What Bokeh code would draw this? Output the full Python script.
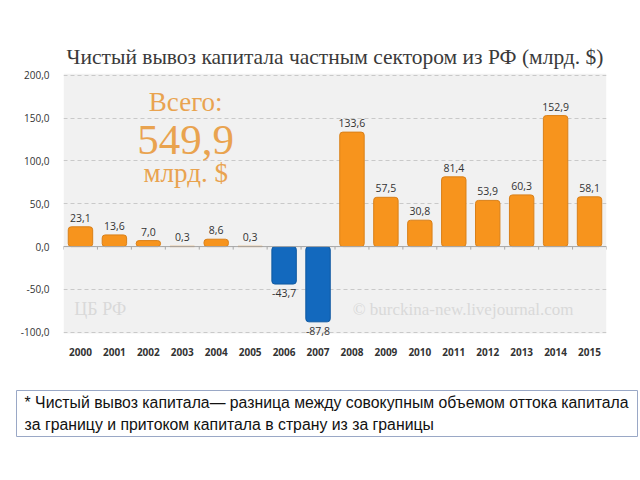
from bokeh.plotting import figure
from bokeh.models import FactorRange, Range1d, Label, Span, ColumnDataSource, FixedTicker, BoxAnnotation
from bokeh.embed import file_html
from bokeh.resources import INLINE
from bokeh.core.properties import value

years = ["2000", "2001", "2002", "2003", "2004", "2005", "2006", "2007",
         "2008", "2009", "2010", "2011", "2012", "2013", "2014", "2015"]
values = [23.1, 13.6, 7.0, 0.3, 8.6, 0.3, -43.7, -87.8,
          133.6, 57.5, 30.8, 81.4, 53.9, 60.3, 152.9, 58.1]
y_ticks = [-100, -50, 0, 50, 100, 150, 200]
y_tick_labels = ["-100,0", "-50,0", "0,0", "50,0", "100,0", "150,0", "200,0"]
title_text = "Чистый вывоз капитала частным сектором из РФ (млрд. $)"
total_lines = ["Всего:", "549,9", "млрд. $"]
footnote_lines = ["* Чистый вывоз капитала— разница между совокупным объемом оттока капитала",
                  "за границу и притоком капитала в страну из за границы"]

ORANGE = "#F7941D"
ORANGE_LINE = "#D98019"
BLUE = "#1369BE"
BLUE_LINE = "#0E58A0"
TEXT_ORANGE = "#E9A34F"

def fmt(v):
    return f"{v:.1f}".replace(".", ",")

colors = [ORANGE if v >= 0 else BLUE for v in values]
lines = [ORANGE_LINE if v >= 0 else BLUE_LINE for v in values]
src = ColumnDataSource(dict(x=years, top=values, fill=colors, line=lines))

x_range = FactorRange(*years, range_padding=0)
p = figure(x_range=x_range, y_range=Range1d(-109.6, 202),
           width=632, height=362, output_backend="svg", toolbar_location=None,
           min_border_left=63, min_border_right=26, min_border_top=73, min_border_bottom=22)
p.background_fill_color = "white"
p.border_fill_color = "white"
p.outline_line_color = None
p.add_layout(BoxAnnotation(bottom=-101.5, top=202, fill_color="#F1F1F1", fill_alpha=1,
                           line_color=None, level="image"))

p.title.text = title_text
p.title.text_font = "Liberation Serif"
p.title.text_font_size = "21.5px"
p.title.text_font_style = "normal"
p.title.text_color = "#3A3A3A"
p.title.align = "center"
p.title.offset = 0
p.title.standoff = 10

p.vbar(x="x", top="top", bottom=0, width=0.72, fill_color="fill", line_color="line",
       line_width=1, source=src, border_radius=3)

# zero line + boundary ticks
p.add_layout(Span(location=0, dimension="width", line_color="#A8A8A8", line_width=1))
bx = [(y, -0.5) for y in years] + [(years[-1], 0.5)]
p.segment(x0=bx, x1=bx, y0=[0] * len(bx), y1=[-3.5] * len(bx), line_color="#A8A8A8", line_width=1)

# value labels
pos = [(y, v) for y, v in zip(years, values) if v >= 0]
neg = [(y, v) for y, v in zip(years, values) if v < 0]
p.text(x=[a for a, _ in pos], y=[b for _, b in pos], text=[fmt(b) for _, b in pos],
       text_font=value("Open Sans"), text_font_size="10.5px", text_color="#333333",
       text_align="center", text_baseline="bottom", y_offset=-5)
p.text(x=[a for a, _ in neg], y=[b for _, b in neg], text=[fmt(b) for _, b in neg],
       text_font=value("Open Sans"), text_font_size="10.5px", text_color="#333333",
       text_align="center", text_baseline="top", y_offset=5)

# total annotation
p.add_layout(Label(x=3.6, y=168.5, text=total_lines[0], text_font="Liberation Serif",
                   text_font_size="27px", text_color=TEXT_ORANGE, text_align="center",
                   text_baseline="middle"))
p.add_layout(Label(x=3.6, y=124, text=total_lines[1], text_font="Liberation Serif",
                   text_font_size="43px", text_color=TEXT_ORANGE, text_align="center",
                   text_baseline="middle"))
p.add_layout(Label(x=3.6, y=85.6, text=total_lines[2], text_font="Liberation Serif",
                   text_font_size="27px", text_color=TEXT_ORANGE, text_align="center",
                   text_baseline="middle"))

# watermarks
p.add_layout(Label(x=0.32, y=-73, text="ЦБ РФ", text_font="Liberation Serif",
                   text_font_size="18px", text_color="#D9D9D9", text_baseline="middle"))
p.add_layout(Label(x=8.52, y=-73, text="© burckina-new.livejournal.com", text_font="Liberation Serif",
                   text_font_size="17px", text_color="#D9D9D9", text_baseline="middle"))

# axes
p.yaxis.ticker = FixedTicker(ticks=y_ticks)
p.yaxis.major_label_overrides = {t: l for t, l in zip(y_ticks, y_tick_labels)}
p.yaxis.axis_line_color = None
p.yaxis.major_tick_line_color = None
p.yaxis.minor_tick_line_color = None
p.yaxis.major_label_text_font = "Open Sans"
p.yaxis.major_label_text_font_size = "10px"
p.yaxis.major_label_text_color = "#333333"
p.yaxis.major_label_standoff = 8

p.xaxis.axis_line_color = None
p.xaxis.major_tick_line_color = None
p.xaxis.minor_tick_line_color = None
p.xaxis.major_label_text_font = "Open Sans"
p.xaxis.major_label_text_font_size = "10px"
p.xaxis.major_label_text_font_style = "bold"
p.xaxis.major_label_text_color = "#333333"
p.xaxis.major_label_standoff = 1

p.xgrid.grid_line_color = None
p.ygrid.ticker = FixedTicker(ticks=y_ticks)
p.ygrid.grid_line_color = "#C9C9C9"
p.ygrid.grid_line_dash = "4 3"

# footnote
f = figure(x_range=Range1d(0, 1), y_range=Range1d(0, 1), width=640, height=78,
           output_backend="svg", toolbar_location=None,
           min_border_left=16, min_border_right=3, min_border_top=28, min_border_bottom=4)
f.axis.visible = False
f.grid.visible = False
f.outline_line_color = "#9AA8C6"
f.outline_line_width = 1
f.border_fill_color = "white"
f.background_fill_color = "white"
f.add_layout(Label(x=0.013, y=0.74, text=footnote_lines[0], text_font="Liberation Sans",
                   text_font_size="15.8px", text_color="#111111", text_baseline="middle"))
f.add_layout(Label(x=0.013, y=0.26, text=footnote_lines[1], text_font="Liberation Sans",
                   text_font_size="15.8px", text_color="#111111", text_baseline="middle"))

open("out.html", "w").write(file_html([p, f], INLINE))
